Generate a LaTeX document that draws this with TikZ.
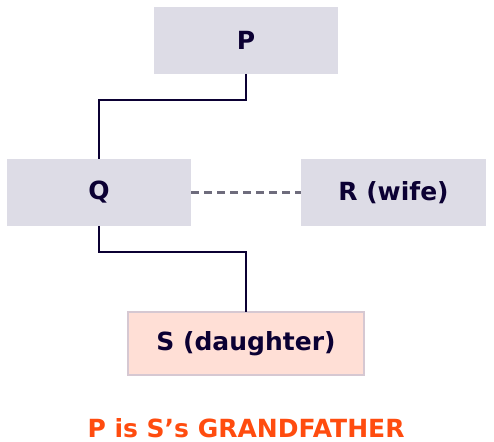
\documentclass[tikz,border=0pt]{standalone}
\usepackage{fontspec}
\setmainfont{DejaVu Sans}
\definecolor{boxgray}{HTML}{DDDCE6}
\definecolor{inkblue}{HTML}{0B0033}
\definecolor{peach}{HTML}{FFDFD6}
\definecolor{peachedge}{HTML}{D6C8D2}
\definecolor{dashgray}{HTML}{6E6C7C}
\definecolor{titleorange}{HTML}{FF4C0F}
\begin{document}
\begin{tikzpicture}[x=0.75pt,y=-0.75pt,
        person/.style={fill=boxgray,text=inkblue,font=\fontsize{18.75}{22}\selectfont\bfseries,
            minimum width=138pt,minimum height=50.25pt,inner sep=0pt,outer sep=0pt},
        link/.style={draw=inkblue,line width=2.2pt},
        spouse/.style={draw=dashgray,line width=2.2pt,dash pattern=on 6pt off 3.75pt}]
        \useasboundingbox (0,0) rectangle (494,442);

        \node[person] (p) at (246,40.5) {P};
        \node[person] (q) at (99,192.5) {Q};
        \node[person,minimum width=138.75pt] (r) at (393.5,192.5) {R (wife)};
        \node[person,fill=peach,draw=peachedge,line width=1.5pt,
            minimum width=177.5pt,minimum height=47.5pt] (s) at (246,343.5) {S (daughter)};
        \node[text=titleorange,font=\fontsize{18.75}{22}\selectfont\bfseries] (t) at (246,428) {P is S’s GRANDFATHER};

        \draw[link] (p.south) -- ++(0,26) -| (q.north);
        \draw[link] (q.south) -- ++(0,26) -| (s.north);
        \draw[spouse] (q.east) -- (r.west);
    \end{tikzpicture}
\end{document}
